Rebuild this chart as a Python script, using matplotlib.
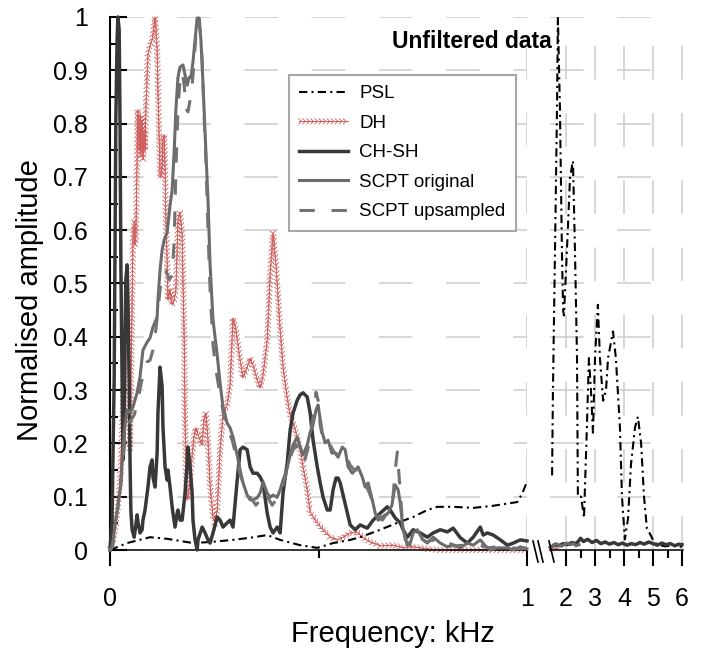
import matplotlib
matplotlib.use("Agg")
import numpy as np
import matplotlib.pyplot as plt
from matplotlib import patheffects
from matplotlib.lines import Line2D
from matplotlib.ticker import MultipleLocator, FixedLocator, FuncFormatter

plt.rcParams['font.family'] = ['Liberation Sans', 'DejaVu Sans']

# ---------------- data (frequency in kHz, normalised amplitude) ----------------
# left panel: 0 - 1 kHz
psl_f = [0, .041, .096, .137, .199, .240, .295, .336, .377, .408, .456, .497, .535,
         .576, .600, .648, .689, .727, .761, .785, .823, .871, .919, .977, .989, 1.0]
psl_a = [0, .013, .024, .021, .013, .015, .019, .023, .028, .019, .009, .004, .013,
         .019, .024, .038, .051, .062, .075, .081, .081, .079, .083, .090, .107, .128]

dh_f = [0, .007, .014, .019, .024, .029, .034, .038, .041, .043, .046, .048, .050,
        .053, .055, .058, .060, .062, .065, .067, .070, .072, .074, .077, .079, .082,
        .084, .086, .089, .091, .096, .101, .106, .108, .110, .113, .115, .118, .120,
        .122, .125, .127, .130, .132, .134, .137, .139, .144, .149, .154, .158, .161,
        .163, .168, .173, .175, .178, .180, .182, .185, .187, .192, .197, .202, .206,
        .214, .221, .225, .230, .235, .240, .247, .252, .257, .264, .271, .281, .288,
        .295, .302, .312, .319, .329, .336, .343, .353, .360, .367, .377, .384, .391,
        .398, .408, .415, .425, .432, .439, .449, .456, .463, .473, .480, .497, .511,
        .528, .545, .559, .576, .592, .607, .624, .648, .679, .703, .727, .761, .792,
        .833, .871, .912, .953, 1.0]
dh_a = [.004, .015, .047, .084, .131, .225, .338, .422, .435, .394, .281, .188, .281,
        .469, .582, .615, .572, .591, .732, .826, .750, .816, .741, .807, .732, .788,
        .750, .826, .891, .929, .947, .957, .985, 1.0, .979, .938, .863, .769, .704,
        .698, .722, .769, .779, .722, .619, .544, .469, .488, .460, .469, .488, .563,
        .619, .634, .591, .507, .394, .244, .150, .094, .098, .131, .178, .216, .229,
        .210, .197, .244, .257, .206, .122, .062, .051, .075, .188, .253, .272, .310,
        .435, .413, .356, .323, .343, .360, .347, .319, .304, .328, .394, .516, .595,
        .535, .413, .343, .285, .253, .238, .212, .188, .156, .113, .071, .051, .038,
        .024, .019, .024, .032, .034, .023, .015, .008, .009, .004, .006, .002, 0,
        0, 0, 0, 0, 0]

chsh_f = [0, .005, .007, .010, .012, .014, .017, .019, .022, .024, .026, .029, .031,
          .034, .036, .038, .041, .043, .046, .048, .050, .053, .058, .062, .065, .067,
          .072, .077, .079, .084, .091, .096, .101, .103, .108, .113, .115, .120, .125,
          .127, .132, .137, .139, .144, .149, .151, .156, .161, .163, .168, .173, .180,
          .185, .187, .192, .197, .199, .204, .209, .211, .221, .228, .235, .240, .247,
          .257, .264, .271, .281, .288, .295, .305, .312, .319, .329, .336, .343, .353,
          .360, .367, .377, .384, .391, .401, .408, .415, .425, .432, .439, .449, .456,
          .463, .473, .480, .487, .497, .504, .511, .521, .528, .535, .542, .547, .552,
          .559, .569, .576, .588, .600, .617, .631, .648, .665, .672, .684, .696, .703,
          .713, .727, .744, .761, .775, .792, .809, .823, .840, .857, .871, .888, .895,
          .905, .919, .936, .953, .967, .984, 1.0]
chsh_a = [0, .056, .169, .319, .563, .807, .957, 1.0, .976, .807, .544, .319, .169,
          .225, .394, .507, .535, .469, .319, .169, .075, .038, .024, .047, .066, .053,
          .032, .038, .056, .075, .118, .156, .169, .137, .118, .182, .257, .343, .306,
          .231, .156, .131, .150, .118, .081, .069, .043, .069, .075, .056, .056, .107,
          .163, .193, .156, .107, .056, .019, 0, .019, .043, .032, .019, .013, .032,
          .062, .056, .043, .051, .056, .043, .131, .188, .193, .188, .156, .144, .144,
          .137, .126, .069, .043, .032, .043, .032, .107, .163, .225, .257, .281, .291,
          .295, .287, .257, .206, .156, .126, .099, .075, .075, .113, .135, .135, .126,
          .103, .071, .047, .038, .047, .041, .056, .069, .081, .075, .060, .051, .038,
          .024, .038, .032, .024, .032, .038, .034, .041, .023, .013, .024, .043, .028,
          .032, .028, .019, .009, .013, .019, .017]

scpt_f = [0, .005, .012, .019, .026, .031, .036, .041, .048, .055, .065, .072, .079,
          .089, .096, .103, .113, .115, .120, .125, .130, .137, .144, .149, .154, .158,
          .163, .168, .175, .180, .185, .190, .194, .199, .204, .209, .214, .218, .223,
          .228, .235, .240, .247, .257, .264, .271, .281, .288, .295, .305, .312, .319,
          .329, .336, .343, .353, .360, .367, .377, .384, .391, .401, .408, .415, .425,
          .432, .439, .449, .456, .463, .473, .480, .487, .494, .499, .509, .516, .523,
          .532, .540, .547, .557, .564, .571, .581, .588, .595, .605, .612, .619, .629,
          .636, .643, .653, .660, .667, .676, .684, .691, .696, .703, .713, .720, .727,
          .737, .744, .751, .761, .775, .792, .809, .823, .840, .857, .871, .888, .900,
          .912, .929, .953, .967, .984, 1.0]
scpt_a = [0, .004, .047, .084, .122, .188, .235, .263, .257, .268, .295, .325, .375,
          .390, .398, .418, .437, .469, .525, .563, .582, .595, .647, .675, .750, .826,
          .887, .906, .910, .891, .872, .887, .886, .916, .957, .998, .998, .957, .876,
          .782, .657, .535, .432, .366, .313, .268, .238, .229, .212, .178, .150, .126,
          .103, .094, .094, .098, .107, .128, .107, .099, .103, .099, .113, .131, .154,
          .178, .197, .212, .193, .178, .197, .221, .235, .263, .272, .220, .201, .206,
          .182, .182, .174, .193, .188, .156, .144, .150, .156, .137, .118, .126, .094,
          .069, .056, .062, .066, .069, .084, .122, .113, .088, .038, .009, .013, .032,
          .038, .028, .019, .013, .024, .013, .006, .009, .004, .013, .009, .019, .008,
          0, .004, .004, 0, .006, .002]

ups_f = [0, .007, .014, .022, .029, .036, .043, .050, .058, .067, .074, .082, .089,
         .096, .103, .110, .115, .120, .127, .134, .142, .149, .154, .158, .163, .168,
         .173, .178, .182, .187, .192, .197, .202, .206, .211, .216, .221, .225, .230,
         .235, .240, .247, .254, .264, .273, .283, .293, .302, .312, .321, .331, .341,
         .350, .360, .370, .379, .389, .398, .408, .418, .427, .437, .446, .456, .466,
         .475, .482, .490, .494, .499, .504, .511, .518, .528, .537, .547, .557, .566,
         .576, .586, .595, .605, .614, .624, .634, .643, .653, .662, .672, .679, .684,
         .689, .694, .701, .708, .720, .732, .744, .758, .773, .792, .811, .830, .850,
         .869, .888, .907, .926, .945, .964, .984, 1.0]
ups_a = [0, .009, .056, .094, .150, .206, .235, .244, .253, .281, .310, .338, .353,
         .356, .375, .413, .450, .488, .516, .525, .507, .516, .582, .713, .826, .882,
         .897, .872, .829, .822, .844, .872, .919, .966, .994, .976, .919, .826, .732,
         .600, .488, .385, .338, .291, .253, .225, .206, .178, .141, .122, .103, .094,
         .084, .094, .109, .098, .084, .094, .103, .131, .159, .184, .197, .178, .165,
         .191, .225, .263, .296, .281, .235, .206, .197, .197, .184, .178, .188, .178,
         .159, .150, .150, .135, .122, .103, .079, .066, .056, .066, .071, .103, .150,
         .184, .131, .056, .019, .009, .028, .023, .015, .019, .009, .013, .008, .009,
         .006, .009, .004, .006, .002, .004, .002, .004]

# right panel: after the axis break
psl2_f = [1.52, 1.55, 1.62, 1.69, 1.72, 1.79, 1.86, 1.90, 1.93, 2.03, 2.14, 2.24, 2.31,
          2.38, 2.41, 2.52, 2.62, 2.72, 2.79, 2.86, 2.93, 3.00, 3.10, 3.17, 3.28, 3.38,
          3.45, 3.62, 3.72, 3.86, 3.93, 4.03, 4.14, 4.24, 4.38, 4.48, 4.59, 4.69, 4.79,
          4.90, 5.03, 5.17, 5.41, 5.66, 6.0]
psl2_a = [0.14, 0.30, 0.56, 0.83, 1.0, 0.83, 0.56, 0.45, 0.44, 0.56, 0.70, 0.73, 0.56,
          0.36, 0.10, 0.10, 0.06, 0.23, 0.36, 0.30, 0.22, 0.36, 0.46, 0.36, 0.28, 0.30,
          0.36, 0.41, 0.36, 0.23, 0.10, 0.02, 0.06, 0.16, 0.23, 0.25, 0.20, 0.10, 0.04,
          0.03, 0.015, 0.01, 0.007, 0.008, 0.006]

dh2_f = [1.45, 1.55, 1.65, 1.75]
dh2_a = [0.002, 0.004, 0.003, 0.002]

chsh2_f = [1.5, 1.6, 1.75, 1.9, 2.05, 2.2, 2.35, 2.45, 2.5, 2.6, 2.75, 2.9, 3.05, 3.2,
           3.35, 3.5, 3.65, 3.8, 3.95, 4.1, 4.25, 4.4, 4.55, 4.7, 4.85, 5.0, 5.15, 5.3,
           5.45, 5.6, 5.75, 5.9, 6.0]
chsh2_a = [0.006, 0.01, 0.008, 0.012, 0.01, 0.014, 0.012, 0.018, 0.022, 0.016, 0.02,
           0.014, 0.018, 0.012, 0.015, 0.011, 0.014, 0.01, 0.013, 0.009, 0.012, 0.01,
           0.014, 0.011, 0.015, 0.012, 0.009, 0.013, 0.01, 0.012, 0.008, 0.011, 0.01]

scpt2_f = [1.45, 1.55, 1.65, 1.75, 1.85, 1.95, 2.05, 2.15, 2.25, 2.35, 2.45]
scpt2_a = [0.004, 0.008, 0.012, 0.009, 0.007, 0.011, 0.013, 0.01, 0.012, 0.008, 0.01]

labels = ["PSL", "DH", "CH-SH", "SCPT original", "SCPT upsampled"]

# ---------------- figure ----------------
W, H = 704, 652
fig = plt.figure(figsize=(W / 100, H / 100), dpi=100)


def box(x0, x1, y0, y1):
    """pixel box -> figure fraction rect"""
    return [x0 / W, 1 - y1 / H, (x1 - x0) / W, (y1 - y0) / H]


ax1 = fig.add_axes(box(110, 527, 17, 550))
ax2 = fig.add_axes(box(550, 683, 17, 550))

# DH is drawn as a trail of small chevrons
dh_fx = [patheffects.withTickedStroke(angle=135, spacing=2.9, length=0.95, linewidth=0.6),
         patheffects.withTickedStroke(angle=-135, spacing=2.9, length=0.95, linewidth=0.6)]

styles = [
    dict(color='black', lw=1.5, linestyle=(0, (4, 2, 1, 2)), zorder=3),
    dict(color='#d0605f', lw=0.6, path_effects=dh_fx, zorder=2),
    dict(color='#383838', lw=2.5, zorder=4),
    dict(color='#6b6b6b', lw=2.2, zorder=5),
    dict(color='#727272', lw=2.2, linestyle=(0, (5, 5.5)), zorder=6),
]

left_sets = [(psl_f, psl_a), (dh_f, dh_a), (chsh_f, chsh_a), (scpt_f, scpt_a), (ups_f, ups_a)]
right_sets = [(psl2_f, psl2_a), (dh2_f, dh2_a), (chsh2_f, chsh2_a), (scpt2_f, scpt2_a)]

handles = []
for (x, y), st, lab in zip(left_sets, styles, labels):
    ln, = ax1.plot(x, y, label=lab, clip_on=False, **st)
    handles.append(ln)
for (x, y), st in zip(right_sets, styles):
    ax2.plot(x, y, clip_on=False, **st)

grid_kw = dict(color='#cccccc', lw=1.1, linestyle=(0, (22, 22)))

for ax in (ax1, ax2):
    ax.set_ylim(0, 1)
    ax.yaxis.set_major_locator(MultipleLocator(0.1))
    ax.yaxis.set_minor_locator(MultipleLocator(0.05))
    ax.yaxis.grid(True, which='major', **grid_kw)
    ax.xaxis.grid(True, which='major', **grid_kw)
    ax.set_axisbelow(True)
    for s in ('top', 'right'):
        ax.spines[s].set_visible(False)
    ax.spines['bottom'].set_linewidth(1.1)
    ax.tick_params(axis='x', which='major', direction='out', length=11.5, width=1.5,
                   labelsize=18, pad=15)
    ax.tick_params(axis='x', which='minor', direction='out', length=6, width=1.5)

ax1.set_xlim(0, 1)
ax1.xaxis.set_major_locator(FixedLocator([0, 1]))
ax1.xaxis.set_minor_locator(FixedLocator([0.5]))
ax1.spines['left'].set_linewidth(1.5)
ax1.tick_params(axis='y', which='major', direction='in', length=12, width=1.5,
                labelsize=18, pad=16)
ax1.tick_params(axis='y', which='minor', direction='in', length=6, width=1.5)
ax1.yaxis.set_major_formatter(FuncFormatter(lambda v, p: '%g' % round(v, 2)))

ax2.set_xlim(2 - 16 / 29, 6 + 1 / 29)
ax2.xaxis.set_major_locator(FixedLocator([2, 3, 4, 5, 6]))
ax2.xaxis.set_minor_locator(FixedLocator([2.5, 3.5, 4.5, 5.5]))
ax2.spines['left'].set_visible(False)
ax2.tick_params(axis='y', which='both', left=False, labelleft=False)

# axis break marks
for x0 in (533, 538, 549):
    fig.add_artist(Line2D([x0 / W, (x0 + 5) / W], [1 - 541 / H, 1 - 562 / H],
                          color='black', lw=1.2))

leg = ax1.legend(handles=handles, loc='upper left', bbox_to_anchor=(289 / W, 1 - 75 / H),
                 bbox_transform=fig.transFigure, fontsize=13.5, frameon=True,
                 fancybox=False, edgecolor='#a6a6a6', framealpha=1,
                 handlelength=2.6, handletextpad=0.6, labelspacing=0.66,
                 borderpad=0.55, borderaxespad=0)
leg.get_frame().set_linewidth(1.5)
leg.set_zorder(10)

fig.text(472 / W, 1 - 41 / H, 'Unfiltered data', ha='center', va='center',
         fontsize=16.5, fontweight='bold')
fig.text(30 / W, 1 - 300 / H, 'Normalised amplitude', rotation=90,
         ha='center', va='center', fontsize=21)
fig.text(393 / W, 1 - 634 / H, 'Frequency: kHz', ha='center', va='center', fontsize=21)

fig.savefig('out.png', dpi=100)
